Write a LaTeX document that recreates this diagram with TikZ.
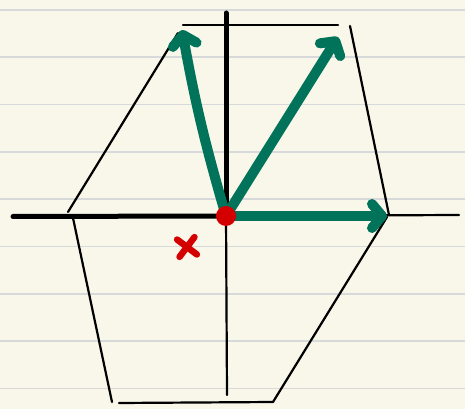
\documentclass[tikz,border=0pt]{standalone}
\usepackage{xcolor}
\usepackage{tikz}
\usetikzlibrary{arrows.meta, shapes.misc}

\definecolor{paper}{HTML}{F9F7EA}
\definecolor{rule}{HTML}{D8D9DA}
\definecolor{vecgreen}{HTML}{00735A}
\definecolor{dotred}{HTML}{D40000}

\begin{document}
\begin{tikzpicture}[
    x=1pt, y=1pt,
    ruled/.style={draw=rule, line width=1.6pt},
    axthick/.style={line width=5pt, line cap=round},
    axthin/.style={line width=2.2pt, line cap=round},
    edge/.style={line width=2.2pt, line cap=round},
    vec/.style={draw=vecgreen, line width=10pt, line cap=round,
                -{Straight Barb[length=10pt, width=24pt, round]}},
    dot/.style={circle, fill=dotred, minimum size=20pt, inner sep=0pt},
    crossmark/.style={cross out, draw=dotred, line width=6.5pt, line cap=round,
                 minimum size=11pt, inner sep=0pt},
]
% --- Paper ---
\fill[paper] (0,0) rectangle (465,409);
\useasboundingbox (0,0) rectangle (465,409);
\foreach \k in {0,...,8}
    \draw[ruled] (0,399-47.3*\k) -- (465,399-47.3*\k);

% --- Axes ---
\coordinate (orig) at (226,193);
\coordinate (xl) at (13,192.5);
\coordinate (xr) at (459,194);
\coordinate (yt) at (226,396);
\coordinate (yb) at (227,14);
\draw[axthick] (xl) -- (orig);
\draw[axthick] (yt) -- (orig);
\draw[axthin] (orig) -- (xr);
\draw[axthin] (orig) -- (yb);

% --- Hexagon ---
\coordinate (h1a) at (68,197);  \coordinate (h1b) at (178,376);
\coordinate (h2a) at (183,384); \coordinate (h2b) at (338,384);
\coordinate (h3a) at (350,383); \coordinate (h3b) at (389,194);
\coordinate (h4a) at (387,192); \coordinate (h4b) at (273,7);
\coordinate (h5a) at (119,6);   \coordinate (h5b) at (273,7);
\coordinate (h6a) at (73,191);  \coordinate (h6b) at (112,7);
\draw[edge] (h1a) -- (h1b);
\draw[edge] (h2a) -- (h2b);
\draw[edge] (h3a) -- (h3b);
\draw[edge] (h4a) -- (h4b);
\draw[edge] (h5a) -- (h5b);
\draw[edge] (h6a) -- (h6b);

% --- Vectors ---
\coordinate (t1) at (182,379);
\coordinate (t2) at (338,372);
\coordinate (t3) at (387,193);
\draw[vec] (orig) to[bend left=3] (t1);
\draw[vec] (orig) -- (t2);
\draw[vec] (orig) -- (t3);

% --- Points ---
\node[dot] (o) at (orig) {};
\node[crossmark, rotate=8] (pt) at (187,162) {};
\end{tikzpicture}
\end{document}
